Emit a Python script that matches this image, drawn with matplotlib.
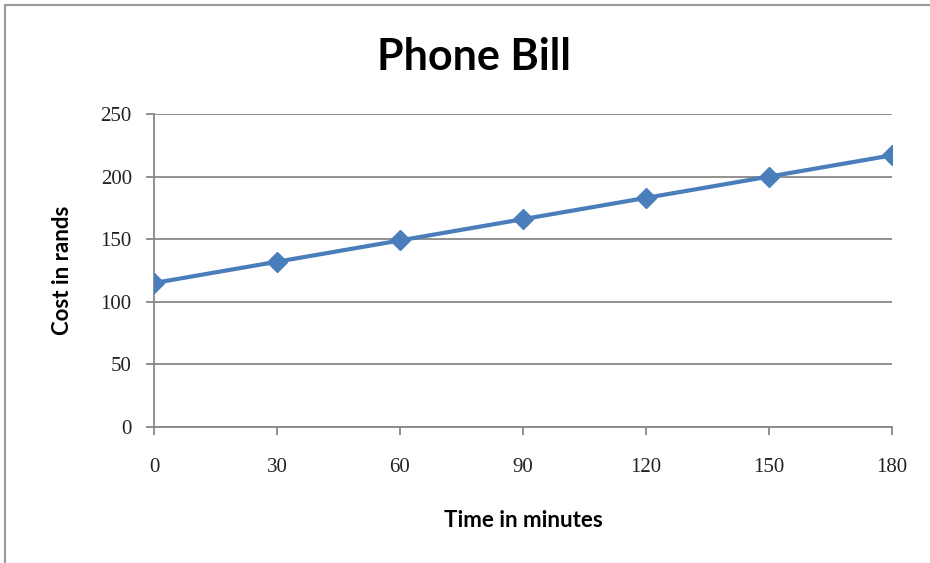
import matplotlib.pyplot as plt
from matplotlib.patches import Rectangle

# Phone bill data
minutes = [0, 30, 60, 90, 120, 150, 180]
cost = [115, 132, 149, 166, 183, 200, 217]
y_ticks = [0, 50, 100, 150, 200, 250]

line_color = '#4A7EBB'
grid_color = '#888888'

fig = plt.figure(figsize=(9.3, 5.63), dpi=100)
ax = fig.add_axes([0.1656, 0.2416, 0.7935, 0.5559])

# outer chart border (only top and left visible)
fig.patches.append(Rectangle((5 / 930, -0.1), 2.0, 1.1 - 5 / 563, transform=fig.transFigure,
                             fill=False, edgecolor='#9a9a9a', linewidth=1.5))

ax.plot(minutes, cost, color=line_color, linewidth=3, marker='D', markersize=10,
        markerfacecolor=line_color, markeredgecolor=line_color, zorder=3)

ax.set_xlim(0, 180)
ax.set_ylim(0, 250)
ax.set_xticks(minutes)
ax.set_yticks(y_ticks)
ax.yaxis.grid(True, color=grid_color, linewidth=1.3)
ax.set_axisbelow(True)

for side in ['top', 'right']:
    ax.spines[side].set_visible(False)
for side in ['left', 'bottom']:
    ax.spines[side].set_color(grid_color)
    ax.spines[side].set_linewidth(1.3)

ax.tick_params(axis='both', direction='out', length=6, width=1.3, color=grid_color,
               labelsize=15)
ax.tick_params(axis='x', pad=16)
ax.tick_params(axis='y', pad=10)
for lbl in ax.get_xticklabels() + ax.get_yticklabels():
    lbl.set_fontfamily('Liberation Serif')
    lbl.set_color('#222222')

fig.text(474 / 930, 1 - 57 / 563, 'Phone Bill', fontsize=31, fontweight='bold',
         family='Lato', ha='center', va='center')
ax.set_xlabel('Time in minutes', fontsize=16, fontweight='bold', family='Lato', labelpad=24)
ax.set_ylabel('Cost in rands', fontsize=16, fontweight='bold', family='Lato', labelpad=20)

plt.savefig('out.png', dpi=100)
